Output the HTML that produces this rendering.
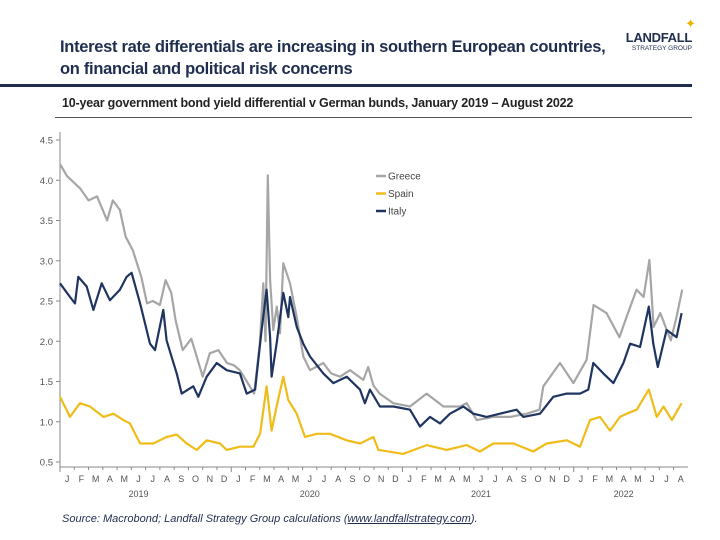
<!DOCTYPE html>
<html><head><meta charset="utf-8">
<style>
body{margin:0;background:#fff;}
#wrap{position:relative;width:720px;height:540px;overflow:hidden;font-family:"Liberation Sans",sans-serif;}
.t{position:absolute;color:#1f2d4e;}
</style></head>
<body>
<div id="wrap">
<div class="t" style="left:60px;top:36px;font-size:16.5px;font-weight:bold;line-height:22px;letter-spacing:-0.3px;">Interest rate differentials are increasing in southern European countries,<br>on financial and political risk concerns</div>
<div style="position:absolute;left:620px;top:22px;width:72px;text-align:right;color:#1f2d4e;">
<div style="position:absolute;right:-4px;top:-6px;color:#e8b400;font-size:13px;">✦</div>
<div style="font-size:13px;font-weight:bold;margin-top:8px;letter-spacing:-0.3px;">LANDFALL</div>
<div style="font-size:6.5px;">STRATEGY GROUP</div></div>
<div style="position:absolute;left:0;top:84px;width:692px;height:3px;background:#1f2d4e;"></div>
<div class="t" style="left:62px;top:96px;font-size:12.5px;font-weight:bold;color:#222;letter-spacing:-0.2px;">10-year government bond yield differential v German bunds, January 2019 – August 2022</div>
<div style="position:absolute;left:55px;top:117px;width:637px;height:1px;background:#555;"></div>
<svg id="chart" width="720" height="540" style="position:absolute;left:0;top:0;"></svg>
<div class="t" style="left:62px;top:513px;font-size:11px;font-style:italic;color:#1f2d4e;">Source: Macrobond; Landfall Strategy Group calculations (<u>www.landfallstrategy.com</u>).</div>
</div>
<script>
const yTicks=[0.5,1.0,1.5,2.0,2.5,3.0,3.5,4.0,4.5];
const monthLabels=["J","F","M","A","M","J","J","A","S","O","N","D","J","F","M","A","M","J","J","A","S","O","N","D","J","F","M","A","M","J","J","A","S","O","N","D","J","F","M","A","M","J","J","A"];
const yearLabels=["2019","2020","2021","2022"];
const yearMonth=[5.5,17.5,29.5,39.5];
const greeceT=[0,0.5,1.4,2,2.6,3.3,3.7,4.2,4.6,5.1,5.7,6.1,6.5,7.0,7.4,7.8,8.1,8.6,9.2,9.6,10.0,10.5,11.1,11.7,12.2,12.6,13.3,13.6,14.0,14.25,14.4,14.56,14.72,14.95,15.19,15.42,15.65,16.12,16.59,17.05,17.52,18.45,19.0,19.62,20.32,21.26,21.6,21.96,22.4,23.35,24.53,25.69,26.87,28.03,28.5,29.2,30.37,31.54,32.71,33.6,33.87,35.04,35.98,36.9,37.39,38.3,39.2,39.7,40.4,40.9,41.3,41.6,42.07,42.8,43.2,43.6];
const greeceV=[4.2,4.05,3.9,3.75,3.8,3.5,3.75,3.63,3.3,3.13,2.8,2.47,2.5,2.45,2.76,2.6,2.26,1.89,2.03,1.8,1.56,1.85,1.89,1.73,1.7,1.64,1.44,1.35,1.97,2.72,2.0,4.06,2.76,2.14,2.43,2.1,2.97,2.72,2.3,1.81,1.64,1.73,1.6,1.56,1.64,1.52,1.68,1.45,1.35,1.23,1.19,1.35,1.19,1.19,1.23,1.02,1.06,1.06,1.1,1.15,1.44,1.73,1.48,1.77,2.45,2.35,2.05,2.3,2.64,2.55,3.01,2.18,2.35,2.01,2.3,2.64];
const spainT=[0,0.7,1.4,2.1,3.04,3.74,4.44,4.9,5.61,6.54,7.47,8.18,8.88,9.58,10.28,11.21,11.68,12.61,13.55,14.02,14.48,14.83,15.18,15.65,16.0,16.59,17.17,17.99,18.92,20.09,21.02,21.96,22.31,24.06,25.7,27.1,28.5,29.43,30.37,31.77,33.17,34.1,35.51,36.44,37.14,37.84,38.54,39.24,39.71,40.41,41.26,41.82,42.29,42.88,43.56];
const spainV=[1.31,1.06,1.23,1.19,1.06,1.1,1.02,0.98,0.73,0.73,0.81,0.84,0.73,0.65,0.77,0.73,0.65,0.69,0.69,0.85,1.44,0.89,1.19,1.56,1.27,1.1,0.81,0.85,0.85,0.77,0.73,0.81,0.65,0.6,0.71,0.65,0.71,0.63,0.73,0.73,0.63,0.73,0.77,0.69,1.02,1.06,0.89,1.06,1.1,1.15,1.4,1.06,1.19,1.02,1.23];
const italyT=[0,0.7,1.05,1.28,1.87,2.34,2.92,3.5,4.2,4.67,5.02,5.61,6.31,6.66,7.24,7.47,8.18,8.53,9.34,9.69,10.28,10.98,11.68,12.61,13.08,13.67,14.13,14.48,14.72,14.83,15.18,15.65,16.0,16.12,16.59,17.05,17.52,18.45,19.15,20.09,21.02,21.37,21.72,22.42,23.36,24.53,25.23,25.93,26.63,27.33,28.26,28.96,29.9,30.83,32.0,32.47,33.64,34.57,35.51,36.44,37.02,37.37,38.07,38.78,39.48,39.95,40.65,41.26,41.58,41.89,42.51,43.21,43.56];
const italyV=[2.72,2.55,2.47,2.8,2.68,2.39,2.72,2.51,2.64,2.8,2.85,2.47,1.97,1.89,2.39,2.01,1.6,1.35,1.44,1.31,1.56,1.73,1.64,1.6,1.35,1.4,2.14,2.64,2.05,1.56,1.97,2.6,2.3,2.55,2.18,1.97,1.81,1.6,1.48,1.56,1.4,1.23,1.4,1.19,1.19,1.15,0.94,1.06,0.98,1.1,1.19,1.1,1.06,1.1,1.15,1.06,1.1,1.31,1.35,1.35,1.4,1.73,1.6,1.48,1.73,1.97,1.93,2.43,1.97,1.68,2.14,2.05,2.35];

const NS='http://www.w3.org/2000/svg';
const svg=document.getElementById('chart');
const X0=60,MW=14.27,Y0=462,YU=80.5;
function xs(m){return X0+m*MW;}
function ys(v){return Y0-(v-0.5)*YU;}
function mk(tag,attrs){const e=document.createElementNS(NS,tag);for(const k in attrs)e.setAttribute(k,attrs[k]);svg.appendChild(e);return e;}

const ya=mk('line',{x1:X0,y1:ys(4.6),x2:X0,y2:467,stroke:'#888','stroke-width':1});


const xa=mk('line',{x1:X0,y1:467,x2:xs(44),y2:467,stroke:'#888','stroke-width':1});


yTicks.forEach(v=>{
  const t=mk('line',{x1:X0-4,y1:ys(v),x2:X0,y2:ys(v),stroke:'#888'});
  
  
  const l=mk('text',{x:X0-7,y:ys(v)+3.5,'text-anchor':'end','font-size':'9.5','fill':'#555','font-family':'Liberation Sans, sans-serif'});
  l.textContent=v.toFixed(1);
  
  
});
monthLabels.forEach((s,i)=>{
  const t=mk('line',{x1:xs(i),y1:467,x2:xs(i),y2:(i%12==0)?472:470,stroke:'#888'});
  
  
  const l=mk('text',{x:xs(i+0.5),y:482,'text-anchor':'middle','font-size':'9','fill':'#555','font-family':'Liberation Sans, sans-serif'});
  l.textContent=s;
  
  
});
yearLabels.forEach((s,i)=>{
  const l=mk('text',{x:xs(yearMonth[i]),y:497,'text-anchor':'middle','font-size':'9','fill':'#555','font-family':'Liberation Sans, sans-serif'});
  l.textContent=s;
  
  
});
function line(T,V,col,name){
  const d=T.map((t,i)=>(i?'L':'M')+xs(t).toFixed(1)+','+ys(V[i]).toFixed(1)).join('');
  const p=mk('path',{d:d,fill:'none',stroke:col,'stroke-width':2.2,'stroke-linejoin':'round'});
  
  
}
line(spainT,spainV,'#f0bc1a','spain-line');
line(greeceT,greeceV,'#a6a6a6','greece-line');
line(italyT,italyV,'#1f3560','italy-line');
const legend=[['Greece','#a6a6a6'],['Spain','#f0bc1a'],['Italy','#1f3560']];
legend.forEach((e,i)=>{
  const y=176+i*17.5;
  const s=mk('line',{x1:376,y1:y,x2:386,y2:y,stroke:e[1],'stroke-width':2.5});
  
  
  const t=mk('text',{x:388,y:y+3.5,'font-size':'10','fill':'#444','font-family':'Liberation Sans, sans-serif'});
  t.textContent=e[0];
  
  
});
</script>
</body></html>
